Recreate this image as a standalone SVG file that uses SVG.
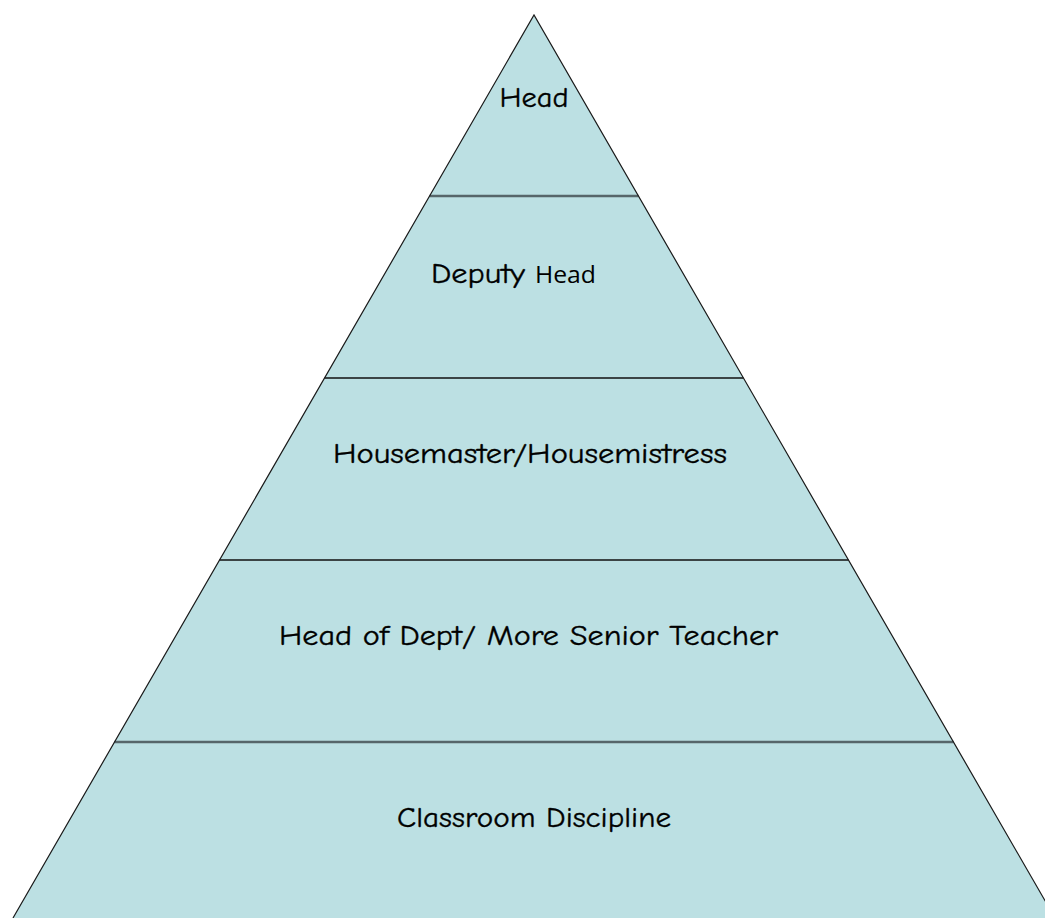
<svg xmlns="http://www.w3.org/2000/svg" width="1045" height="918" viewBox="0 0 1045 918">
<style>
.lvl{fill:#bce0e3;stroke:none}
.edge{fill:none;stroke:#1a1a1a;stroke-width:1.2}
.div1{stroke:#56666a;stroke-width:2.6}
.div2{stroke:#111;stroke-width:1.6}
text{font-family:"Comic Sans MS","Comic Neue","DejaVu Sans",sans-serif;font-size:28px;fill:#000;stroke:#000;stroke-width:0.35;text-anchor:middle}
.cal{font-family:"Open Sans","Liberation Sans",sans-serif;font-size:23px;stroke-width:0}
</style>
<rect width="1045" height="918" fill="#fff"/>
<g id="pyramid">
<polygon class="lvl" points="534,15 1055,918 13,918"/>
</g>
<g id="level-head">
<text x="534" y="107" textLength="69" lengthAdjust="spacingAndGlyphs">Head</text>
</g>
<g id="level-deputy">
<text x="431" y="283" style="text-anchor:start"><tspan textLength="94" lengthAdjust="spacingAndGlyphs">Deputy</tspan><tspan class="cal" x="535" textLength="61" lengthAdjust="spacingAndGlyphs">Head</tspan></text>
</g>
<g id="level-housemaster">
<text x="530" y="463" textLength="394" lengthAdjust="spacingAndGlyphs">Housemaster/Housemistress</text>
</g>
<g id="level-hod">
<text x="528.5" y="645" textLength="499" lengthAdjust="spacingAndGlyphs">Head of Dept/ More Senior Teacher</text>
</g>
<g id="level-classroom">
<text x="534" y="827" textLength="274" lengthAdjust="spacingAndGlyphs">Classroom Discipline</text>
</g>
<g id="connectors">
<line class="div1" x1="429.6" y1="196" x2="638.4" y2="196"/>
<line class="div2" x1="324.5" y1="378" x2="743.5" y2="378"/>
<line class="div2" x1="219.5" y1="560" x2="848.5" y2="560"/>
<line class="div1" x1="114.5" y1="742" x2="953.5" y2="742"/>
<polyline class="edge" points="13,918 534,15 1055,918"/>
</g>
</svg>
